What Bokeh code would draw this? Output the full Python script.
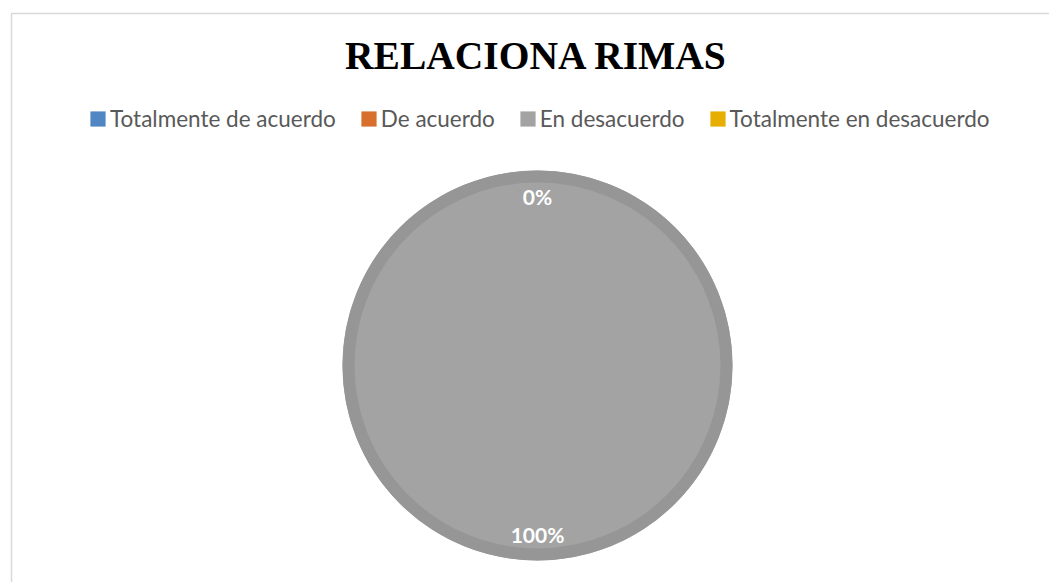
import math
from bokeh.plotting import figure
from bokeh.models import ColumnDataSource, Range1d, Legend, LegendItem
from bokeh.core.properties import value
from bokeh.embed import file_html
from bokeh.resources import INLINE

# ---- data ----
title_text = "RELACIONA RIMAS"
categories = ["Totalmente de acuerdo", "De acuerdo", "En desacuerdo", "Totalmente en desacuerdo"]
values = [0, 0, 100, 0]
colors = ["#4F86C3", "#D96F2C", "#A3A3A3", "#E6AE00"]

# ---- layout (pixel-like coordinates, y measured upward from page bottom) ----
W, H = 1049, 582
cx, cy = 537, 217
R = 195
ring_w = 12
label_r = 169

p = figure(width=W, height=H, output_backend="svg", toolbar_location=None,
           x_range=Range1d(0, W), y_range=Range1d(0, H),
           min_border=0, outline_line_color=None)
p.axis.visible = False
p.grid.visible = False
p.background_fill_color = "white"
p.border_fill_color = "white"

# chart frame
p.line(x=[11, 11, 1100], y=[-20, 569, 569], line_color="#D9D9D9", line_width=1.5)

# title
p.text(x=[536], y=[582 - 55.5], text=[title_text], text_align="center",
       text_baseline="middle", text_font=value("Liberation Serif"),
       text_font_size="39.5px", text_font_style="bold", text_color="#000000")

# pie wedges
total = float(sum(values))
cum = 0.0
renderers = []
label_x, label_y, label_t = [], [], []
seen = set()
for cat, v, c in zip(categories, values, colors):
    frac = v / total
    start = math.pi / 2 - cum * 2 * math.pi
    # keep the sweep just under a full turn so that the SVG arc is drawn
    end = start - min(frac, 0.999999) * 2 * math.pi
    src = ColumnDataSource(dict(x=[cx], y=[cy], s=[start], e=[end],
                                r=[R if v > 0 else 0]))
    rr = p.wedge(x="x", y="y", radius="r", start_angle="s", end_angle="e",
                 direction="clock", fill_color=c, line_color=None, source=src)
    renderers.append(rr)
    mid = math.pi / 2 - (cum + frac / 2) * 2 * math.pi
    lx = round(cx + label_r * math.cos(mid), 1)
    ly = round(cy + label_r * math.sin(mid), 1)
    if (lx, ly) not in seen:
        seen.add((lx, ly))
        label_x.append(lx)
        label_y.append(ly)
        label_t.append(f"{round(frac * 100)}%")
    cum += frac

# pie border ring
p.circle(x=[cx], y=[cy], radius=R - ring_w / 2, fill_color=None,
         line_color="#969696", line_width=ring_w)

# data labels
p.text(x=label_x, y=label_y, text=label_t, text_align="center",
       text_baseline="middle", text_font=value("Lato"), text_font_size="21px",
       text_font_style="bold", text_color="white")

# legend
items = [LegendItem(label=cat, renderers=[r]) for cat, r in zip(categories, renderers)]
legend = Legend(items=items, orientation="horizontal", location=(88, 450),
                glyph_width=19, glyph_height=19, label_standoff=3, spacing=23,
                padding=0, margin=0, border_line_alpha=0, background_fill_alpha=0,
                label_text_font="Lato", label_text_font_size="22.5px",
                label_text_color="#595959", label_height=19)
p.add_layout(legend, "center")

open("out.html", "w").write(file_html(p, INLINE))
